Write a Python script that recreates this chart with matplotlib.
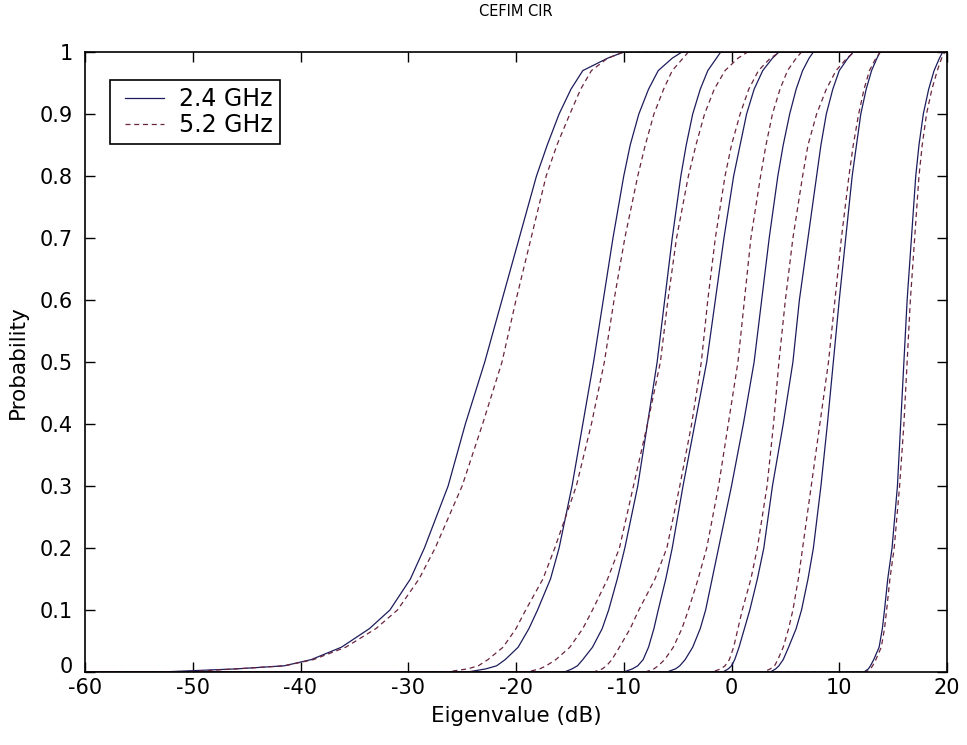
import matplotlib
matplotlib.use('Agg')
import matplotlib.pyplot as plt
import matplotlib.transforms as mtransforms
from matplotlib.legend_handler import HandlerLine2D

p_levels = [0, 0.005, 0.01, 0.02, 0.04, 0.07, 0.1, 0.15, 0.2, 0.3, 0.4,
            0.5, 0.6, 0.7, 0.8, 0.85, 0.9, 0.94, 0.97, 0.99, 1.0]

# eigenvalue (dB) at each probability level, 2.4 GHz (solid)
eig_24 = [
    [-53.0, -46.0, -41.5, -39.0, -36.2, -33.6, -31.7, -29.8, -28.5, -26.3, -24.7,
     -22.9, -21.3, -19.7, -18.1, -17.1, -16.0, -14.9, -13.8, -11.5, -10.0],
    [-24.5, -22.8, -21.8, -21.0, -19.8, -18.8, -18.0, -16.8, -16.0, -14.8, -13.8,
     -12.8, -11.9, -11.0, -10.0, -9.4, -8.6, -7.7, -6.8, -5.5, -4.6],
    [-15.5, -14.8, -14.3, -13.8, -12.9, -12.0, -11.4, -10.6, -9.9, -8.7, -7.8,
     -6.9, -6.2, -5.5, -4.7, -4.2, -3.6, -2.9, -2.2, -1.4, -1.0],
    [-10.0, -9.2, -8.7, -8.2, -7.7, -7.2, -6.8, -6.1, -5.5, -4.5, -3.4,
     -2.3, -1.5, -0.7, 0.2, 0.8, 1.4, 2.1, 2.9, 3.8, 4.4],
    [-6.0, -5.2, -4.8, -4.3, -3.6, -2.9, -2.4, -1.8, -1.2, 0.0, 1.1,
     2.1, 2.8, 3.5, 4.3, 4.8, 5.4, 6.0, 6.6, 7.2, 7.6],
    [-0.8, -0.3, 0.0, 0.3, 0.7, 1.2, 1.7, 2.4, 3.0, 3.8, 4.8,
     5.7, 6.3, 7.1, 7.9, 8.3, 8.8, 9.4, 10.0, 10.8, 11.3],
    [3.6, 4.1, 4.4, 4.8, 5.3, 6.0, 6.5, 7.1, 7.6, 8.3, 8.9,
     9.45, 10.0, 10.6, 11.2, 11.6, 12.0, 12.5, 13.0, 13.5, 13.8],
    [12.3, 12.7, 12.9, 13.2, 13.7, 14.0, 14.2, 14.5, 14.9, 15.4, 15.7,
     16.0, 16.3, 16.7, 17.1, 17.4, 17.8, 18.3, 18.8, 19.3, 19.6],
]

# eigenvalue (dB) at each probability level, 5.2 GHz (dashed)
eig_52 = [
    [-51.0, -46.0, -41.5, -38.8, -35.8, -33.0, -31.0, -29.0, -27.5, -25.0, -23.1,
     -21.3, -20.0, -18.6, -17.2, -16.2, -15.0, -14.0, -13.0, -11.5, -10.0],
    [-26.5, -24.5, -23.5, -22.6, -21.2, -20.0, -19.1, -17.5, -16.4, -14.4, -13.0,
     -11.8, -10.9, -9.9, -8.7, -8.0, -7.2, -6.3, -5.5, -4.5, -4.0],
    [-19.0, -17.8, -17.2, -16.3, -15.0, -13.8, -12.9, -11.5, -10.4, -9.1, -7.8,
     -6.6, -5.9, -5.1, -4.0, -3.3, -2.5, -1.6, -0.6, 0.6, 1.5],
    [-12.8, -12.0, -11.6, -11.1, -10.4, -9.4, -8.6, -7.1, -6.0, -4.8, -3.7,
     -2.8, -2.2, -1.5, -0.6, 0.0, 0.8, 1.6, 2.5, 3.6, 4.5],
    [-8.0, -7.2, -6.8, -6.2, -5.4, -4.6, -4.0, -3.1, -2.3, -1.2, -0.3,
     0.6, 1.2, 1.8, 2.7, 3.2, 3.8, 4.5, 5.2, 6.0, 6.5],
    [-1.8, -1.0, -0.6, -0.2, 0.2, 0.6, 1.0, 1.8, 2.4, 3.3, 3.9,
     4.4, 5.0, 5.7, 6.6, 7.1, 7.9, 8.8, 9.7, 10.7, 11.4],
    [3.0, 3.6, 4.0, 4.3, 4.8, 5.3, 5.7, 6.2, 6.6, 7.4, 8.2,
     9.0, 9.6, 10.2, 10.9, 11.3, 11.8, 12.3, 12.8, 13.4, 13.8],
    [12.5, 12.9, 13.1, 13.4, 13.9, 14.2, 14.4, 14.7, 15.1, 15.6, 16.0,
     16.3, 16.6, 17.0, 17.4, 17.7, 18.1, 18.6, 19.1, 19.5, 19.8],
]

x_ticks = [-60, -50, -40, -30, -20, -10, 0, 10, 20]
y_ticks = [0, 0.1, 0.2, 0.3, 0.4, 0.5, 0.6, 0.7, 0.8, 0.9, 1.0]
y_tick_labels = ['0', '0.1', '0.2', '0.3', '0.4', '0.5', '0.6', '0.7', '0.8', '0.9', '1']

plt.rcParams['font.family'] = ['DejaVu Sans']
plt.rcParams['axes.unicode_minus'] = False

fig = plt.figure(figsize=(9.67, 7.45), dpi=100)
ax = fig.add_axes([85 / 967, 1 - 672 / 745, 862 / 967, 620 / 745])

solid_color = '#1c1c5c'
dash_color = '#6a2440'

for i, xs in enumerate(eig_24):
    ax.plot([-60] + xs + [20], [0] + p_levels + [1], color=solid_color, linewidth=0.9,
            label='2.4 GHz' if i == 0 else None)
for i, xs in enumerate(eig_52):
    ax.plot([-60] + xs + [20], [0] + p_levels + [1], color=dash_color, linewidth=0.9,
            dashes=(4, 3), label='5.2 GHz' if i == 0 else None)

ax.set_xlim(-60, 20)
ax.set_ylim(0, 1)
ax.set_xticks(x_ticks)
ax.set_xticklabels([str(t) for t in x_ticks])
ax.set_yticks(y_ticks)
ax.set_yticklabels(y_tick_labels)
ax.tick_params(direction='in', length=7, width=1, top=True, right=True, labelsize=15)
ax.tick_params(axis='x', pad=4)
ax.tick_params(axis='y', pad=9)
for spine in ax.spines.values():
    spine.set_linewidth(1.2)

# lift the "0" a little so it clears the "-60" below it
zero_lbl = ax.get_yticklabels()[0]
zero_lbl.set_transform(zero_lbl.get_transform() +
                       mtransforms.ScaledTranslation(0, 5 / 72, fig.dpi_scale_trans))

ax.set_xlabel('Eigenvalue (dB)', fontsize=15.5, labelpad=6)
ax.set_ylabel('Probability', fontsize=15.5, labelpad=8)
ax.set_title('CEFIM CIR', fontsize=10.5, pad=26)

leg = ax.legend(loc='upper left', bbox_to_anchor=(0.029, 0.955), borderaxespad=0,
                fancybox=False, framealpha=1, edgecolor='black', fontsize=17,
                handlelength=2.0, handletextpad=0.62, borderpad=0.3, labelspacing=0.1,
                handler_map={plt.Line2D: HandlerLine2D(xpad=0.32)})
leg.get_frame().set_linewidth(1.2)

fig.savefig('out.png', dpi=100, facecolor='white')
